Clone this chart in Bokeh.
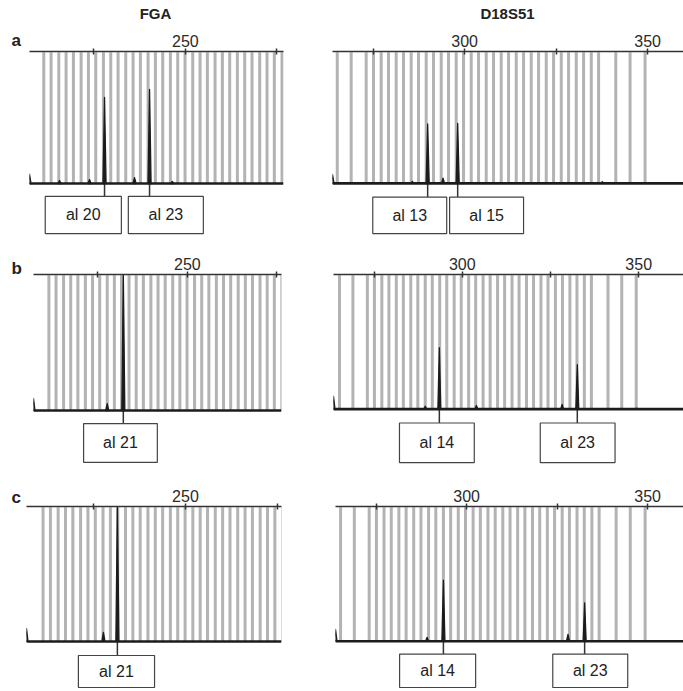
from bokeh.plotting import figure
from bokeh.models import Range1d, LinearAxis, FixedTicker, Span
from bokeh.layouts import column, row, Spacer
from bokeh.embed import file_html
from bokeh.resources import INLINE
from bokeh.core.properties import value

# ---------------- data ----------------
LOCI = ["FGA", "D18S51"]
ROW_TAGS = ["a", "b", "c"]

# bin (allelic ladder) positions, bp
FGA_BINS = [211.3, 213.3, 215.4, 217.4, 219.4, 221.5, 223.5, 225.5, 227.6, 229.6,
            231.6, 233.7, 235.7, 237.7, 239.8, 241.8, 243.8, 245.9, 247.9, 249.9,
            252.0, 254.0, 256.0, 258.1, 260.1, 262.1, 264.2, 266.2, 268.2, 270.3,
            272.3, 274.3, 276.4]
D18_BINS = [265.2, 269.0, 273.1, 275.1, 277.2, 279.2, 281.3, 283.3, 285.4, 287.4,
            289.5, 291.5, 293.6, 295.6, 297.7, 299.7, 301.8, 303.8, 305.9, 307.9,
            310.0, 312.0, 314.1, 316.1, 318.2, 320.2, 322.3, 324.3, 326.4, 328.4,
            330.5, 332.5, 334.6, 336.6, 341.3, 345.2, 349.3]

FGA_TICKS = [225, 250, 275]
D18_TICKS = [275, 300, 325, 350]
FGA_TICK_LABELS = {225: "", 250: "250", 275: ""}
D18_TICK_LABELS = {275: "", 300: "300", 325: "", 350: "350"}

# peaks: size (bp) and height (relative signal, 1000 = top of panel)
a_fga_bp = [207.4, 215.6, 223.8, 227.9, 236.1, 240.2, 246.4]
a_fga_h = [70, 23, 30, 652, 45, 712, 15]
a_fga_alleles = ["al 20", "al 23"]
a_fga_allele_bp = [227.9, 240.2]

a_d18_bp = [263.9, 285.7, 289.9, 294.1, 298.1, 337.6]
a_d18_h = [67, 15, 450, 40, 455, 12]
a_d18_alleles = ["al 13", "al 15"]
a_d18_allele_bp = [289.9, 298.1]

b_fga_bp = [207.0, 227.6, 232.1]
b_fga_h = [88, 51, 1000]
b_fga_alleles = ["al 21"]
b_fga_allele_bp = [232.1]

b_d18_bp = [263.5, 289.5, 293.5, 304.0, 328.3, 332.6, 349.5]
b_d18_h = [96, 22, 456, 27, 35, 331, 7]
b_d18_alleles = ["al 14", "al 23"]
b_d18_allele_bp = [293.5, 332.6]

c_fga_bp = [206.8, 227.7, 231.5]
c_fga_h = [96, 67, 1000]
c_fga_alleles = ["al 21"]
c_fga_allele_bp = [231.5]

c_d18_bp = [263.8, 289.1, 293.6, 328.0, 332.6]
c_d18_h = [88, 29, 453, 51, 285]
c_d18_alleles = ["al 14", "al 23"]
c_d18_allele_bp = [293.6, 332.6]

# ---------------- layout (pixels / data-space placement) ----------------
FONT = "Liberation Sans"
TRACE = "#1c1c1c"
TITLE_H = 22
TAG_W = 26
TAG_H = 45
ROW_H = [218, 230, 221]

layouts = {
    "a_fga": dict(w=304, h=ROW_H[0], bl=3, br=47, bt=29, bb=4, xr=(207.4, 276.8), ybot=-401.5,
                  box_lr=[(211.7, 232.5), (234.4, 254.9)], box_tb=(-98, -379)),
    "a_d18": dict(w=353, h=ROW_H[0], bl=2, br=0, bt=26, bb=4, xr=(263.9, 359.8), ybot=-403,
                  box_lr=[(274.9, 295.1), (295.9, 316.1)], box_tb=(-104, -381)),
    "b_fga": dict(w=304, h=ROW_H[1], bl=7, br=49, bt=34, bb=4, xr=(207.0, 276.3), ybot=-412,
                  box_lr=[(221.0, 241.6)], box_tb=(-96, -382)),
    "b_d18": dict(w=353, h=ROW_H[1], bl=3, br=0, bt=32, bb=4, xr=(263.5, 362.7), ybot=-426,
                  box_lr=[(282.2, 303.4), (322.1, 343.3)], box_tb=(-103, -397)),
    "c_fga": dict(w=304, h=ROW_H[2], bl=0, br=49, bt=36, bb=2, xr=(206.8, 276.1), ybot=-356,
                  box_lr=[(220.9, 241.6)], box_tb=(-104, -341)),
    "c_d18": dict(w=353, h=ROW_H[2], bl=5, br=0, bt=33, bb=2, xr=(263.8, 359.9), ybot=-358,
                  box_lr=[(281.5, 302.5), (323.8, 344.5)], box_tb=(-95, -343)),
}


def blank_fig(w, h):
    f = figure(width=w, height=h, x_range=Range1d(0, w), y_range=Range1d(h, 0),
               x_axis_type=None, y_axis_type=None, toolbar_location=None,
               output_backend="svg", min_border=0, title=None)
    f.outline_line_color = None
    f.background_fill_color = "white"
    f.border_fill_color = "white"
    return f


def make_panel(lay, bins, ticks, tick_labels, peaks_bp, peaks_h, alleles, allele_bp):
    p = figure(width=lay["w"], height=lay["h"],
               x_range=Range1d(*lay["xr"]), y_range=Range1d(lay["ybot"], 1000),
               x_axis_type=None, y_axis_type=None, toolbar_location=None,
               output_backend="svg", title=None,
               min_border_left=lay["bl"], min_border_right=lay["br"],
               min_border_top=lay["bt"], min_border_bottom=lay["bb"])
    p.outline_line_color = None
    p.background_fill_color = "white"
    p.border_fill_color = "white"

    ax = LinearAxis(ticker=FixedTicker(ticks=ticks),
                    major_label_overrides=tick_labels)
    ax.axis_line_color = "#333333"
    ax.axis_line_width = 1.6
    ax.major_tick_line_color = "#333333"
    ax.major_tick_line_width = 1.5
    ax.major_tick_in = 3
    ax.major_tick_out = 3
    ax.minor_tick_in = 0
    ax.minor_tick_out = 0
    ax.major_label_standoff = 2
    ax.major_label_text_font = FONT
    ax.major_label_text_font_size = "16px"
    ax.major_label_text_color = "#2a2a2a"
    p.add_layout(ax, "above")

    # bins (gray stripes)
    p.segment(x0=bins, y0=[0] * len(bins), x1=bins, y1=[995] * len(bins),
              line_color="#b3b3b3", line_width=3.0)

    # baseline
    p.add_layout(Span(location=0, dimension="width", line_color=TRACE, line_width=2.6))

    # peaks
    hw = 0.42
    xs = [[b - hw, b, b + hw] for b in peaks_bp]
    ys = [[0, h, 0] for h in peaks_h]
    p.patches(xs, ys, fill_color=TRACE, line_color=TRACE, line_width=1.3,
              line_join="round")

    # allele boxes
    top, bot = lay["box_tb"]
    for (l, r), name, abp in zip(lay["box_lr"], alleles, allele_bp):
        p.segment(x0=[abp], y0=[0], x1=[abp], y1=[top], line_color="#333333",
                  line_width=1.5)
        p.quad(left=[l], right=[r], top=[top], bottom=[bot], fill_color="white",
               line_color="#444444", line_width=1.2)
        p.text(x=[(l + r) / 2], y=[(top + bot) / 2], text=[name],
               text_font=value(FONT), text_font_size="16px", text_color="#222222",
               text_align="center", text_baseline="middle")
    return p


pa_l = make_panel(layouts["a_fga"], FGA_BINS, FGA_TICKS, FGA_TICK_LABELS,
                  a_fga_bp, a_fga_h, a_fga_alleles, a_fga_allele_bp)
pa_r = make_panel(layouts["a_d18"], D18_BINS, D18_TICKS, D18_TICK_LABELS,
                  a_d18_bp, a_d18_h, a_d18_alleles, a_d18_allele_bp)
pb_l = make_panel(layouts["b_fga"], FGA_BINS, FGA_TICKS, FGA_TICK_LABELS,
                  b_fga_bp, b_fga_h, b_fga_alleles, b_fga_allele_bp)
pb_r = make_panel(layouts["b_d18"], D18_BINS, D18_TICKS, D18_TICK_LABELS,
                  b_d18_bp, b_d18_h, b_d18_alleles, b_d18_allele_bp)
pc_l = make_panel(layouts["c_fga"], FGA_BINS, FGA_TICKS, FGA_TICK_LABELS,
                  c_fga_bp, c_fga_h, c_fga_alleles, c_fga_allele_bp)
pc_r = make_panel(layouts["c_d18"], D18_BINS, D18_TICKS, D18_TICK_LABELS,
                  c_d18_bp, c_d18_h, c_d18_alleles, c_d18_allele_bp)

# locus titles strip
title_fig = blank_fig(683, TITLE_H)
title_fig.text(x=[155, 507], y=[13, 13], text=LOCI, text_font=value(FONT),
               text_font_size="15px", text_font_style="bold", text_color="#222222",
               text_align="center", text_baseline="middle")

# row tag strips (small tag figure + spacer below)
tag_cols = []
for tag, h, ymid in zip(ROW_TAGS, ROW_H, [18, 28, 27]):
    tf = blank_fig(TAG_W, TAG_H)
    tf.text(x=[11], y=[ymid], text=[tag], text_font=value(FONT),
            text_font_size="17px", text_font_style="bold", text_color="#222222",
            text_align="left", text_baseline="middle")
    tag_cols.append(column(tf, Spacer(width=TAG_W, height=h - TAG_H), spacing=0))

layout = column(
    title_fig,
    row(tag_cols[0], pa_l, pa_r, spacing=0),
    row(tag_cols[1], pb_l, pb_r, spacing=0),
    row(tag_cols[2], pc_l, pc_r, spacing=0),
    spacing=0)

open("out.html", "w").write(file_html(layout, INLINE))
